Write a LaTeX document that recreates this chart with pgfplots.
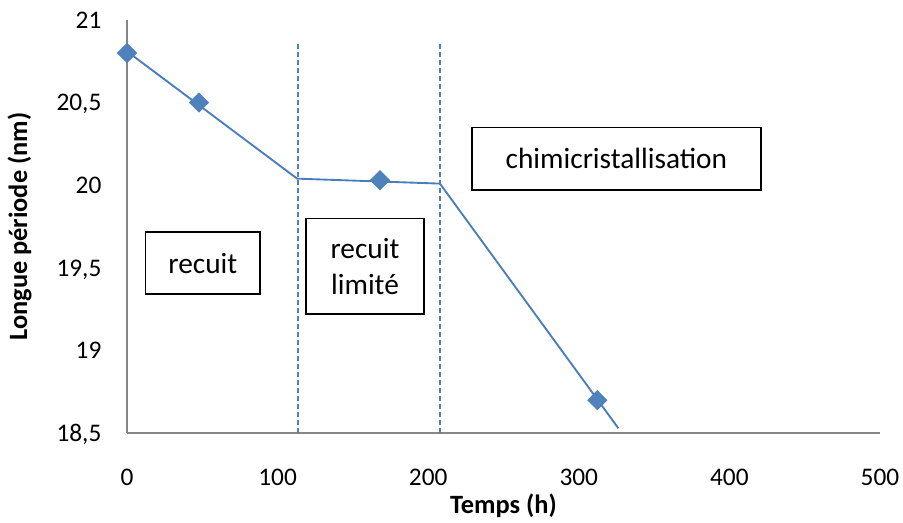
\documentclass[border=0pt]{standalone}
\usepackage{fontspec}
\setmainfont{Carlito}
\usepackage{pgfplots}
\pgfplotsset{compat=1.18}
\definecolor{exblue}{HTML}{4F81BD}
\definecolor{exline}{HTML}{4A7EBB}
\definecolor{axgray}{HTML}{868686}
\begin{document}
\begin{tikzpicture}
\begin{axis}[
  scale only axis, width=564.75pt, height=310pt,
  xmin=0, xmax=500, ymin=18.5, ymax=21,
  axis x line=bottom, axis y line=left,
  axis line style={-, axgray, line width=1.2pt},
  xtick={0,100,200,300,400,500},
  ytick={18.5,19,19.5,20,20.5,21},
  major tick length=0pt,
  /pgf/number format/assume math mode=true,
  /pgf/number format/use comma,
  /pgf/number format/1000 sep={},
  tick label style={font=\fontsize{19}{22}\selectfont},
  xticklabel style={anchor=north, inner sep=0pt, yshift=-26.8pt},
  yticklabel style={anchor=east, inner sep=0pt, xshift=-19pt, text depth=0pt},
  xlabel={Temps (h)}, ylabel={Longue période (nm)},
  label style={font=\bfseries\fontsize{19.8}{23}\selectfont},
  xlabel style={at={(axis description cs:0.5,-0.1945)}, anchor=base},
  ylabel style={at={(axis description cs:-0.1328,0.5)}, anchor=base},
  clip=false,
]
\coordinate (bl) at (rel axis cs:0,0);
\addplot[exline, line width=1.4pt, mark=none] coordinates {(0,20.81)(113,20.04)(207.8,20.01)(326.3,18.53)};
\addplot[exblue, line width=1.5pt, dash pattern=on 3.8pt off 2.2pt, mark=none] coordinates {(113.7,18.5)(113.7,20.87)};
\addplot[exblue, line width=1.5pt, dash pattern=on 3.8pt off 2.2pt, mark=none] coordinates {(207.8,18.5)(207.8,20.87)};
\addplot[only marks, mark=square*, mark size=5.1pt, mark options={rotate=45, fill=exblue, draw=exline, line width=0.5pt}] coordinates {(0,20.8)(47.8,20.5)(168,20.03)(312.3,18.7)};
\draw[line width=1.2pt, fill=white] (axis cs:12.4,19.342) rectangle (axis cs:88.3,19.716);
\node[font=\fontsize{22}{27}\selectfont] at (axis cs:50.35,19.529) {recuit};
\draw[line width=1.2pt, fill=white] (axis cs:118.7,19.22) rectangle (axis cs:197.4,19.80);
\node[font=\fontsize{22}{27}\selectfont, align=center] at (axis cs:158.05,19.51) {recuit\\limité};
\draw[line width=1.2pt, fill=white] (axis cs:228.9,19.97) rectangle (axis cs:421,20.35);
\node[font=\fontsize{22}{27}\selectfont] at (axis cs:324.95,20.16) {chimicristallisation};
\end{axis}
\pgfresetboundingbox
\path[use as bounding box] (bl) ++(-95.25pt,-67.3pt) rectangle ++(677.25pt,392.25pt);
\end{tikzpicture}
\end{document}
